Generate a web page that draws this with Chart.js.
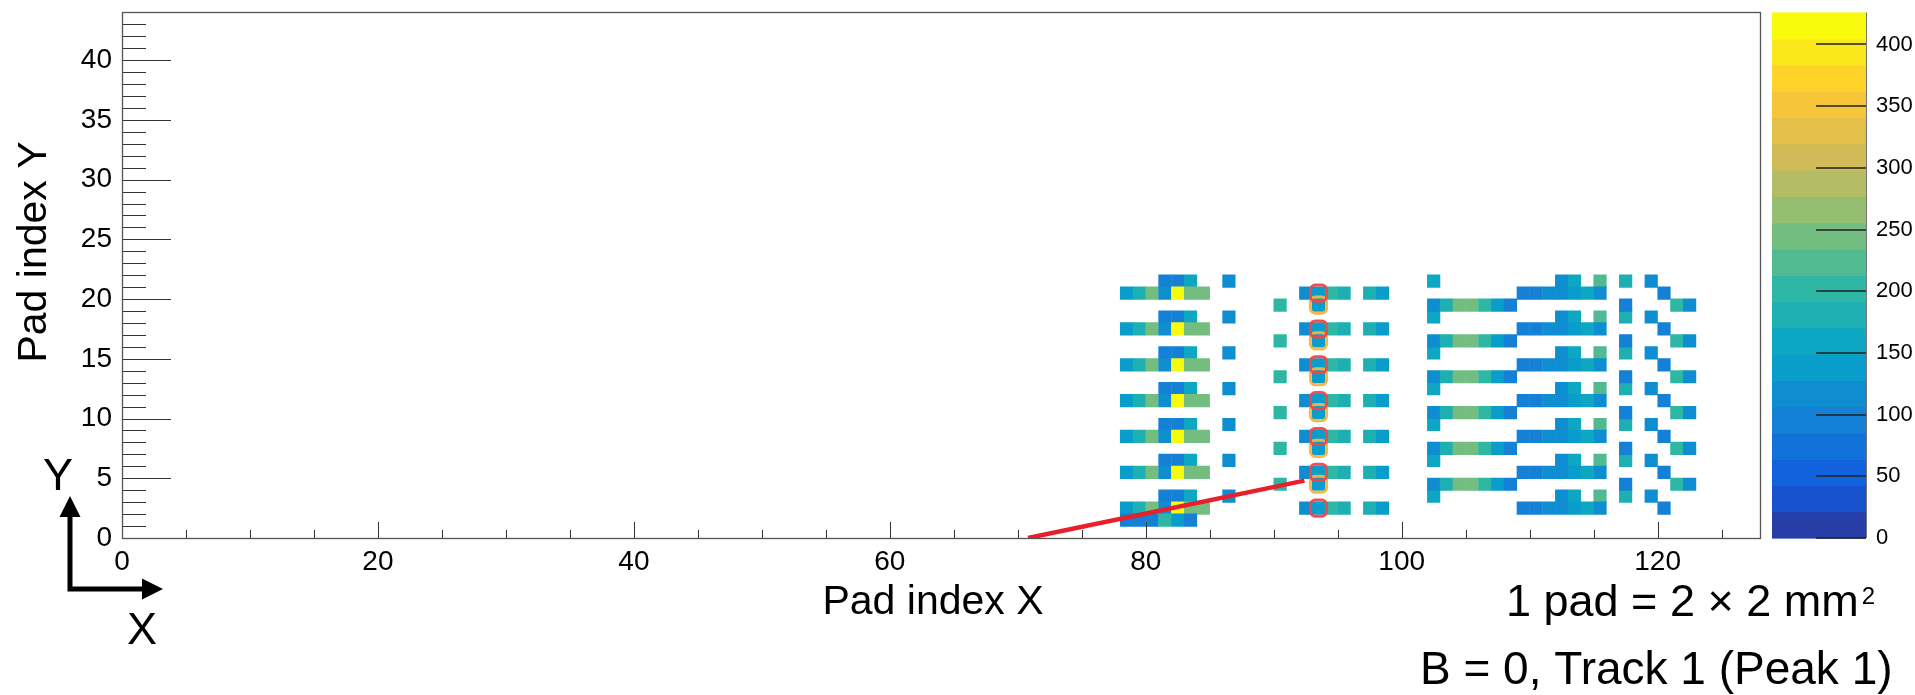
<!DOCTYPE html>
<html><head><meta charset="utf-8">
<script src="https://cdn.jsdelivr.net/npm/chart.js@4.4.0/dist/chart.umd.min.js"></script>
<style>html,body{margin:0;padding:0;background:#fff;}canvas{display:block;}</style>
</head><body>
<canvas id="c" width="1915" height="695"></canvas>
<script>
// ---------- data ----------
const xAxisTicks = [0, 20, 40, 60, 80, 100, 120];
const yAxisTicks = [0, 5, 10, 15, 20, 25, 30, 35, 40];
const zAxisTicks = [0, 50, 100, 150, 200, 250, 300, 350, 400];
const xRange = [0, 128];
const yRange = [0, 44];
const zRange = [0, 426];
const nContours = 20;

// rows of pads (pad index Y) sharing the same pattern
const topRowsY  = [21, 18, 15, 12, 9, 6, 3];
const mainRowsY = [20, 17, 14, 11, 8, 5, 2];
const lowRowsY  = [19, 16, 13, 10, 7, 4];
const row1Y     = [1];

// pad index X and charge of each pad in those rows
const topX  = [81, 82, 83, 86, 102, 112, 113, 115, 117, 119];
const topZ  = [96, 97, 160, 117, 158, 116, 160, 224, 181, 117];
const mainX = [78, 79, 80, 81, 82, 83, 84, 92, 93, 94, 95, 97, 98, 109, 110, 111, 112, 113, 114, 115, 120];
const mainZ = [138, 181, 245, 117, 426, 245, 244, 117, 138, 202, 181, 181, 138, 95, 96, 116, 117, 138, 160, 117, 96];
const lowX  = [90, 93, 102, 103, 104, 105, 106, 107, 108, 117, 121, 122];
const lowZ  = [202, 138, 117, 181, 245, 245, 202, 138, 96, 96, 202, 117];
const row1X = [78, 79, 80, 81, 82, 83];
const row1Z = [96, 95, 96, 202, 138, 97];

// selected pads (markers)
const peakPadX = [93, 93, 93, 93, 93, 93, 93];
const peakPadY = mainRowsY;
const nextPadX = [93, 93, 93, 93, 93, 93];
const nextPadY = lowRowsY;

// fitted track segment
const trackX = [70.8, 92.4];
const trackY = [0, 4.8];

// ---------- palette (ROOT kBird) ----------
const birdStops = [0.0, 0.125, 0.25, 0.375, 0.5, 0.625, 0.75, 0.875, 1.0];
const birdR = [0.2082, 0.0592, 0.0780, 0.0232, 0.1802, 0.5301, 0.8186, 0.9956, 0.9764];
const birdG = [0.1664, 0.3599, 0.5041, 0.6419, 0.7178, 0.7492, 0.7328, 0.7862, 0.9832];
const birdB = [0.5293, 0.8684, 0.8385, 0.7914, 0.6425, 0.4662, 0.3499, 0.1968, 0.0539];
function bird(f) {
  f = Math.max(0, Math.min(1, f));
  let s = 0;
  while (s < birdStops.length - 2 && f > birdStops[s + 1]) s++;
  const t = (f - birdStops[s]) / (birdStops[s + 1] - birdStops[s]);
  const c = arr => Math.round(255 * (arr[s] + (arr[s + 1] - arr[s]) * t));
  return `rgb(${c(birdR)},${c(birdG)},${c(birdB)})`;
}
function bandColor(k) {
  const idx = Math.floor((k + 0.99) * 255 / nContours);
  return bird(idx / 254);
}
function colorFor(z) {
  let k = Math.floor((z - zRange[0]) / (zRange[1] - zRange[0]) * nContours);
  k = Math.max(0, Math.min(nContours - 1, k));
  return bandColor(k);
}

function buildCells(rows, xs, zs) {
  const out = [];
  rows.forEach(j => xs.forEach((i, n) => out.push({ x: i + 0.5, y: j + 0.5, z: zs[n] })));
  return out;
}
const cells = [].concat(
  buildCells(topRowsY, topX, topZ),
  buildCells(mainRowsY, mainX, mainZ),
  buildCells(lowRowsY, lowX, lowZ),
  buildCells(row1Y, row1X, row1Z)
);
const peakPads = peakPadX.map((v, n) => ({ x: v + 0.5, y: peakPadY[n] + 0.5 }));
const nextPads = nextPadX.map((v, n) => ({ x: v + 0.5, y: nextPadY[n] + 0.5 }));
const track = trackX.map((v, n) => ({ x: v, y: trackY[n] }));

// ---------- texts ----------
const xTitle = 'Pad index X';
const yTitle = 'Pad index Y';
const padText = '1 pad = 2 \u00d7 2 mm';
const padSup = '2';
const infoText = 'B = 0, Track 1 (Peak 1)';
const FONT = "'Liberation Sans', Arial, sans-serif";

Chart.defaults.font.family = FONT;
Chart.defaults.color = '#000';

const cellRadius = ctx => {
  const sx = ctx.chart.scales.x;
  const w = Math.abs(sx.getPixelForValue(1) - sx.getPixelForValue(0));
  return (w + 0.4) * Math.SQRT1_2;
};

const decor = {
  id: 'decor',
  afterDraw(chart) {
    const { ctx, chartArea: a, scales: { x, y } } = chart;
    ctx.save();
    // minor / major ticks (inside the frame)
    ctx.strokeStyle = '#333';
    ctx.lineWidth = 1;
    ctx.beginPath();
    for (let v = yRange[0]; v <= yRange[1]; v += 1) {
      const py = Math.round(y.getPixelForValue(v)) + 0.5;
      const len = v % 5 === 0 ? 49 : 24;
      ctx.moveTo(a.left, py); ctx.lineTo(a.left + len, py);
    }
    for (let v = xRange[0]; v <= xRange[1]; v += 5) {
      const px = Math.round(x.getPixelForValue(v)) + 0.5;
      const len = v % 20 === 0 ? 16 : 8;
      ctx.moveTo(px, a.bottom); ctx.lineTo(px, a.bottom - len);
    }
    ctx.stroke();
    // frame
    ctx.strokeStyle = '#555';
    ctx.lineWidth = 1.3;
    ctx.strokeRect(Math.round(a.left) + 0.5, Math.round(a.top) + 0.5, Math.round(a.right - a.left), Math.round(a.bottom - a.top));

    // colour bar
    const cbL = 1772, cbR = 1866, zTop = a.top, zBot = a.bottom;
    const zPix = z => zBot - (z - zRange[0]) / (zRange[1] - zRange[0]) * (zBot - zTop);
    const dz = (zRange[1] - zRange[0]) / nContours;
    for (let k = 0; k < nContours; k++) {
      const p0 = zPix(zRange[0] + k * dz), p1 = zPix(zRange[0] + (k + 1) * dz);
      ctx.fillStyle = bandColor(k);
      ctx.fillRect(cbL, p1, cbR - cbL, p0 - p1 + 0.6);
    }
    ctx.strokeStyle = '#777';
    ctx.lineWidth = 1;
    ctx.beginPath(); ctx.moveTo(cbR + 0.5, zTop); ctx.lineTo(cbR + 0.5, zBot); ctx.stroke();
    ctx.strokeStyle = '#222';
    ctx.lineWidth = 1.4;
    ctx.beginPath();
    zAxisTicks.forEach(z => { const p = Math.round(zPix(z)); ctx.moveTo(cbR - 50, p); ctx.lineTo(cbR, p); });
    ctx.stroke();
    ctx.fillStyle = '#000';
    ctx.font = `22px ${FONT}`;
    ctx.textAlign = 'left';
    ctx.textBaseline = 'middle';
    zAxisTicks.forEach(z => ctx.fillText(String(z), 1876, zPix(z)));

    // axis titles
    ctx.font = `41px ${FONT}`;
    ctx.textAlign = 'center';
    ctx.textBaseline = 'middle';
    ctx.fillText(xTitle, 933, 603);
    ctx.save();
    ctx.translate(35, 252);
    ctx.rotate(-Math.PI / 2);
    ctx.fillText(yTitle, 0, 0);
    ctx.restore();

    // info texts
    ctx.textAlign = 'left';
    ctx.textBaseline = 'alphabetic';
    ctx.font = `45px ${FONT}`;
    ctx.fillText(padText, 1506, 616);
    const w = ctx.measureText(padText).width;
    ctx.font = `24px ${FONT}`;
    ctx.fillText(padSup, 1506 + w + 3, 604);
    ctx.font = `46px ${FONT}`;
    ctx.fillText(infoText, 1420, 684);

    // XY orientation arrows
    ctx.strokeStyle = '#000';
    ctx.fillStyle = '#000';
    ctx.lineWidth = 5;
    ctx.beginPath();
    ctx.moveTo(70, 591.5); ctx.lineTo(70, 514);
    ctx.moveTo(67.5, 589); ctx.lineTo(144, 589);
    ctx.stroke();
    ctx.beginPath();
    ctx.moveTo(70, 496); ctx.lineTo(59.5, 517); ctx.lineTo(80.5, 517); ctx.closePath();
    ctx.moveTo(163, 589); ctx.lineTo(142, 578.5); ctx.lineTo(142, 599.5); ctx.closePath();
    ctx.fill();
    ctx.font = `45px ${FONT}`;
    ctx.textAlign = 'center';
    ctx.textBaseline = 'middle';
    ctx.fillText('Y', 58, 478);
    ctx.fillText('X', 142, 632);
    ctx.restore();
  }
};

new Chart(document.getElementById('c'), {
  type: 'scatter',
  data: {
    datasets: [
      {
        label: 'track',
        data: track,
        showLine: true,
        borderColor: '#e8202a',
        borderWidth: 4.5,
        pointRadius: 0,
        order: 0
      },
      {
        label: 'peak pads',
        data: peakPads,
        pointStyle: 'rectRounded',
        pointRadius: 9.4,
        borderWidth: 3,
        borderColor: 'rgba(236,72,78,0.95)',
        backgroundColor: 'rgba(0,0,0,0)',
        order: 1
      },
      {
        label: 'next pads',
        data: nextPads,
        pointStyle: 'rectRounded',
        pointRadius: 9.4,
        borderWidth: 3,
        borderColor: 'rgba(248,178,66,0.95)',
        backgroundColor: 'rgba(0,0,0,0)',
        order: 2
      },
      {
        label: 'charge',
        data: cells,
        pointStyle: 'rect',
        pointRadius: cellRadius,
        pointBorderWidth: 0,
        borderWidth: 0,
        backgroundColor: c => colorFor(c.raw ? c.raw.z : 0),
        order: 3
      }
    ]
  },
  options: {
    responsive: false,
    devicePixelRatio: 1,
    animation: false,
    events: [],
    layout: { padding: { top: 7, right: 155, bottom: 0, left: 0 } },
    plugins: { legend: { display: false }, tooltip: { enabled: false } },
    scales: {
      x: {
        type: 'linear', min: xRange[0], max: xRange[1],
        grid: { display: false, drawTicks: false },
        border: { display: false },
        ticks: { font: { size: 28 }, padding: 7, autoSkip: false, maxRotation: 0, color: '#000' },
        afterBuildTicks: s => { s.ticks = xAxisTicks.map(v => ({ value: v })); },
        afterFit: s => { s.height = 157; s.paddingLeft = 0; s.paddingRight = 0; }
      },
      y: {
        type: 'linear', min: yRange[0], max: yRange[1],
        grid: { display: false, drawTicks: false },
        border: { display: false },
        ticks: { font: { size: 28 }, padding: 10, autoSkip: false, color: '#000' },
        afterBuildTicks: s => { s.ticks = yAxisTicks.map(v => ({ value: v })); },
        afterFit: s => { s.width = 122; s.paddingTop = 0; s.paddingBottom = 0; }
      }
    }
  },
  plugins: [decor]
});
</script>
</body></html>
